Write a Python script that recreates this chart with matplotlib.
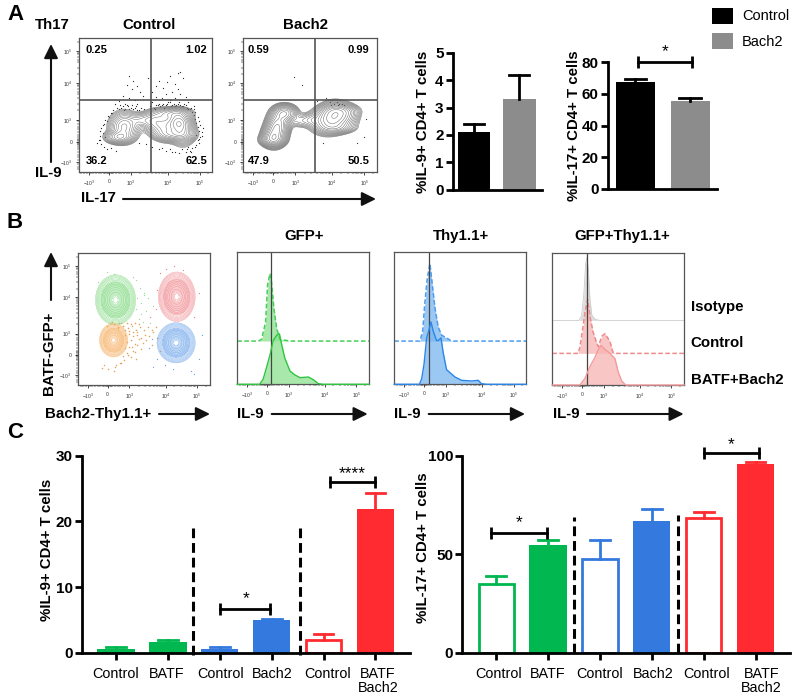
import numpy as np
import matplotlib
matplotlib.use('Agg')
import matplotlib.pyplot as plt
from matplotlib.transforms import ScaledTranslation

plt.rcParams['font.family'] = ['Liberation Sans', 'DejaVu Sans']
plt.rcParams['mathtext.default'] = 'regular'

W, H = 800, 698

# panel A bars
a_groups = ['Control', 'Bach2']
a_il9 = [2.1, 3.3]
a_il9_top = [2.4, 4.2]
a_il17 = [67.5, 55.5]
a_il17_top = [69.5, 57.7]

# panel C bars
c_labels = ['Control', 'BATF', 'Control', 'Bach2', 'Control', 'BATF\nBach2']
c_il9 = [0.6, 1.6, 0.6, 5.0, 1.9, 21.9]
c_il9_top = [0.9, 1.9, 0.9, 5.2, 2.8, 24.3]
c_il17 = [35.0, 54.5, 47.5, 66.8, 68.5, 95.8]
c_il17_top = [38.8, 57.3, 57.3, 73.0, 71.5, 96.6]
c_colors = ['#00b84f', '#00b84f', '#3479dd', '#3479dd', '#ff2b30', '#ff2b30']
c_hollow_il9 = [False, False, False, False, True, False]
c_hollow_il17 = [True, False, True, False, True, False]

# flow axis ticks (position along the display axis, 0-100)
flow_ticks = [7.5, 22.5, 39, 66.5, 90.5]
flow_ticklabels = ['$-10^3$', '0', '$10^3$', '$10^4$', '$10^5$']
flow_minor = [2, 4, 6, 9, 11, 13, 15, 17, 19, 20, 21, 22, 23, 24, 25, 26, 28, 30, 32, 34, 36, 38,
              46, 51, 55, 58, 60, 62, 64, 65, 73, 78, 82, 84, 86, 88, 89, 97]

# contour clusters: centre x, centre y, sd x, sd y, weight
ctrl_blobs = [(30, 26, 5.5, 2.6, .55), (34, 34, 6, 6, .6), (47, 39, 5, 3, .22), (56, 38, 5, 4.5, .35),
              (65, 34, 6, 5.5, .55), (75, 37, 4.5, 4.5, 1.0), (78, 31, 5, 6, .5), (72, 28, 8, 2.6, .4),
              (70, 44, 8, 2.4, .4)]
bach_blobs = [(23, 27, 4.5, 4.5, 1.0), (26, 35, 4.5, 5, 1.0), (31, 44, 5, 3.5, .9), (22, 24, 5, 2.6, .5),
              (42, 38, 4.5, 3, .13), (50, 39, 4.5, 3, .16), (62, 38, 7, 5.5, .5), (68, 42, 6, 5.5, .7),
              (76, 42, 6, 5, .4), (70, 33, 8, 2.5, .25), (72, 46, 8, 2.5, .25)]
gfp_blobs = {
    '#7fd87f': [(28.5, 64.6, 6, 7.5, 1.0)],
    '#f08c92': [(75, 67, 5.5, 7.4, 1.0)],
    '#f7b368': [(27, 34, 4.2, 5, 1.0)],
    '#74a9ec': [(74.5, 32, 5.7, 6, 1.0)],
}

# outlier dots
ctrl_dots_x = [38, 41, 36, 40, 44, 46, 33, 38, 42, 30, 48, 35, 44, 27, 52, 55, 60, 63, 66, 68, 70, 72, 74, 76, 78,
               74, 65, 62, 58, 68, 72, 76, 80, 82, 55, 58, 86,
               29, 31, 33, 35, 37, 39, 41, 43, 45, 47, 49, 53, 56, 59, 61, 63, 65, 67, 69, 71, 73, 75, 77, 79, 81, 83, 85,
               30, 32, 34, 36, 38, 40, 42, 44, 60, 62, 64, 66, 68, 70, 72, 74, 76, 78, 80, 82, 84, 86, 58, 57,
               86, 87, 88, 89, 90, 88, 91, 89, 90, 92, 88, 90, 87, 85, 83, 81, 89, 91, 87, 93, 90, 92,
               26, 24, 22, 20, 19, 17, 18, 16, 15, 17, 19, 21, 24, 28, 45, 50, 55, 60, 65, 70, 75, 80,
               25, 23, 21, 18, 16, 20, 14, 16, 62, 68, 72, 77, 82, 84]
ctrl_dots_y = [72, 68, 65, 62, 64, 60, 57, 55, 54, 53, 57, 51, 51, 51, 70, 52, 68, 63, 67, 72, 60, 66, 74, 75, 70,
               62, 58, 55, 56, 54, 55, 58, 56, 52, 60, 64, 49,
               48, 50, 49, 47, 49, 48, 47, 49, 46, 48, 47, 49, 48, 50, 49, 51, 50, 52, 49, 51, 50, 52, 49, 51, 48, 47, 45,
               47, 48, 46, 50, 47, 50, 48, 46, 51, 50, 48, 51, 52, 50, 49, 51, 50, 49, 50, 47, 48, 47, 50, 47,
               43, 40, 37, 34, 31, 28, 26, 24, 22, 30, 20, 38, 19, 18, 16, 17, 41, 35, 45, 33, 25, 27,
               46, 44, 42, 39, 36, 33, 29, 27, 24, 21, 19, 17, 18, 16, 22, 21, 19, 17, 16, 15, 14, 15,
               44, 41, 38, 35, 31, 26, 22, 24, 18, 17, 15, 17, 19, 15]
bach_dots_x = [38, 44, 55, 62, 65, 70, 74, 92, 90, 85, 60, 66, 68, 72, 75, 71]
bach_dots_y = [71, 65, 53, 55, 52, 52, 51, 40, 26, 22, 22, 50, 51, 51, 50, 50]

green_dots_x = [22, 27, 15, 44, 47, 50, 53, 48, 44, 52, 57, 46, 49, 55, 42, 45, 48, 50]
green_dots_y = [86, 84, 78, 80, 74, 70, 66, 62, 58, 56, 60, 50, 48, 47, 82, 66, 54, 68]
orange_dots_x = [38, 41, 44, 47, 50, 53, 56, 59, 36, 39, 42, 45, 48, 51, 54, 57, 37, 40, 43, 46, 49, 52, 36, 39, 42,
                 45, 48, 34, 37, 40, 43, 20, 18, 23, 28, 33, 27, 56, 60, 62, 44, 30, 34,
                 24, 27, 31, 34, 37, 40, 43, 46, 22, 26, 30, 33, 36, 39, 42, 45, 41, 38, 35, 32, 29]
orange_dots_y = [43, 45, 42, 44, 42, 44, 42, 44, 38, 39, 37, 40, 36, 38, 37, 40, 33, 34, 31, 35, 32, 34, 28, 29, 26,
                 30, 27, 22, 24, 21, 25, 15, 13, 12, 14, 17, 11, 30, 36, 26, 20, 43, 45,
                 47, 46, 47, 45, 47, 46, 47, 46, 45, 48, 44, 47, 42, 41, 40, 38, 29, 23, 19, 17, 15]
red_dots_x = [67, 73, 80, 92, 55, 59, 60, 88, 62]
red_dots_y = [88, 90, 87, 70, 52, 58, 72, 52, 85]
blue_dots_x = [56, 54, 60, 66, 72, 86, 92, 94, 57, 88]
blue_dots_y = [35, 28, 20, 15, 12, 11, 20, 38, 14, 8]

# histograms: x, height in % of the box
gfp_top_x = [0, 16, 18.5, 21.5, 23, 24.8, 26, 27.8, 29.9, 32.4, 37.5, 42, 100]
gfp_top_y = [32.6, 32.6, 34, 47, 75, 83.5, 77, 57, 42, 34, 33, 32.6, 32.6]
gfp_low_x = [0, 17, 19.7, 22, 24.8, 27.3, 29.9, 32, 33.7, 36, 40, 43.8, 47.6, 54, 57.7, 61.5, 65, 100]
gfp_low_y = [0, 0, 4, 12, 22, 33, 37, 38, 30, 20, 10, 7, 5, 5.5, 3.5, 0.5, 0, 0]
thy_top_x = [0, 19.4, 21.5, 23, 25, 27, 28.8, 30.9, 33.3, 35.9, 39.6, 42.7, 45, 100]
thy_top_y = [32.6, 32.6, 40, 60, 80, 91, 75, 57, 43, 37, 35, 33, 32.6, 32.6]
thy_low_x = [0, 19, 20.7, 22.5, 24.5, 26, 27.8, 29.5, 32, 33.3, 35.4, 37, 39.6, 46, 51, 58.6, 63.6, 66, 70, 100]
thy_low_y = [0, 0, 4, 15, 35, 40, 47, 40, 33, 33, 35, 24, 11, 5.5, 3, 2.5, 3, 0.5, 0, 0]
iso_x = [0, 20.3, 22.3, 24, 25.3, 26.3, 27.3, 28.6, 30, 32.4, 36, 100]
iso_y = [49, 49, 53, 70, 92, 97, 88, 65, 53, 50, 49, 49]
dbl_top_x = [0, 19.7, 21, 23, 24.8, 26.8, 29, 31, 33.7, 35, 37.5, 40, 43.8, 46, 48, 100]
dbl_top_y = [24, 24, 29, 42, 55, 65, 50, 40, 32, 29, 37, 39, 33, 25, 24, 24]
dbl_low_x = [0, 21, 24.8, 28.6, 32.4, 35, 37, 40, 43.8, 47.6, 50, 52.7, 55.7, 58, 100]
dbl_low_y = [0, 0, 5, 14, 21, 27, 30, 27, 24, 20, 10, 3, 0, 0, 0]

fig = plt.figure(figsize=(W / 100, H / 100), dpi=100)


def ax_px(x0, y0, x1, y1):
    return fig.add_axes([x0 / W, 1 - y1 / H, (x1 - x0) / W, (y1 - y0) / H])


def flow_axes(x0, y0, x1, y1, yticks=True):
    ax = ax_px(x0, y0, x1, y1)
    ax.set_xlim(0, 100)
    ax.set_ylim(0, 100)
    ax.set_xticks(flow_ticks, flow_ticklabels, fontsize=3.6, color='#333333')
    ax.set_xticks(flow_minor, minor=True)
    if yticks:
        ax.set_yticks(flow_ticks, flow_ticklabels, fontsize=3.6, color='#333333')
        ax.set_yticks(flow_minor, minor=True)
    else:
        ax.set_yticks([])
    ax.tick_params(which='major', length=2.2, width=0.5, pad=2.5)
    ax.tick_params(which='minor', length=1.2, width=0.35)
    for s in ax.spines.values():
        s.set_color('#555555')
        s.set_linewidth(0.9)
    return ax


def density(blobs):
    gx, gy = np.meshgrid(np.linspace(0, 100, 300), np.linspace(0, 100, 300))
    z = np.zeros_like(gx)
    for cx, cy, sx, sy, w in blobs:
        z += w * np.exp(-0.5 * ((gx - cx) / sx) ** 2 - 0.5 * ((gy - cy) / sy) ** 2)
    return gx, gy, z / z.max()


def contour_plot(ax, blobs, color, lw, n=16, low=0.04, tint=None):
    gx, gy, z = density(blobs)
    if tint:
        # crowded centre of a cluster reads as a soft wash, the very middle stays white
        ax.contourf(gx, gy, z, levels=[0.2, 0.9], colors=[color], alpha=tint)
    ax.contour(gx, gy, z, levels=np.geomspace(low, 0.95, n), colors=color, linewidths=lw)


def hist_panel(ax, top_x, top_y, low_x, low_y, base, line, fill, dash):
    ax.fill_between(top_x, base, top_y, color=fill, alpha=0.75, lw=0)
    ax.plot(top_x, top_y, color=dash, lw=1.1, ls=(0, (3, 1.6)))
    ax.fill_between(low_x, 0, low_y, color=fill, alpha=0.75, lw=0)
    ax.plot(low_x, low_y, color=line, lw=1.0, clip_on=False, zorder=3)


def style_bars(ax):
    for s in ['top', 'right']:
        ax.spines[s].set_visible(False)
    for s in ['left', 'bottom']:
        ax.spines[s].set_linewidth(2)
    ax.patch.set_alpha(0)
    ax.tick_params(axis='y', width=2, length=5, labelsize=11, pad=1.5)
    for t in ax.get_yticklabels():
        t.set_fontweight('bold')


def bracket(ax, x0, x1, y, star, star_x, star_y):
    ax.plot([x0, x1], [y, y], color='black', lw=2, marker='|', ms=8, mew=2, clip_on=False)
    ax.text(star_x, star_y, star, ha='center', va='center', fontsize=12.5, clip_on=False)


def bar_c(ax, values, tops, hollow, shifts):
    for i, (v, t, c, h) in enumerate(zip(values, tops, c_colors, hollow)):
        ax.plot([i, i], [v, t], color=c, lw=2, clip_on=False)
        ax.plot([i - 0.19, i + 0.19], [t, t], color=c, lw=2, clip_on=False)
        if h:
            ax.bar(i, v, width=0.68, facecolor='white', edgecolor=c, linewidth=2)
        else:
            ax.bar(i, v, width=0.72, color=c)
    ax.set_xticks(range(6), c_labels, fontsize=10.4, linespacing=1.0, va='top')
    ax.tick_params(axis='x', width=2, length=5, pad=5)
    ax.set_xlim(-0.655, 5.665)
    # labels in the figure are not quite under their ticks
    for lab, dx in zip(ax.get_xticklabels(), shifts):
        lab.set_transform(lab.get_transform() + ScaledTranslation(dx / 100, 0, fig.dpi_scale_trans))


# --- panel A flow plots
ax = flow_axes(78.7, 38.3, 212.3, 172)
ax.scatter(ctrl_dots_x, ctrl_dots_y, s=0.8, color='#222222', lw=0)
contour_plot(ax, ctrl_blobs, '#6e6e6e', 0.35, n=16)
ax.axvline(54, color='#555555', lw=1.2)
ax.axhline(53.5, color='#555555', lw=1.2)

ax = flow_axes(243, 38.3, 377, 172)
ax.scatter(bach_dots_x, bach_dots_y, s=0.8, color='#333333', lw=0)
contour_plot(ax, bach_blobs, '#666666', 0.35, n=16)
ax.axvline(54, color='#555555', lw=1.2)
ax.axhline(53.5, color='#555555', lw=1.2)

# --- panel A bars
ax = ax_px(452.7, 52.7, 542, 189.7)
ax.bar([0, 1], a_il9, width=0.72, color=['black', '#8c8c8c'])
for i in range(2):
    ax.plot([i, i], [a_il9[i], a_il9_top[i]], color='black', lw=2)
    ax.plot([i - 0.22, i + 0.22], [a_il9_top[i], a_il9_top[i]], color='black', lw=2)
ax.set_xlim(-0.468, 1.495)
ax.set_ylim(0, 5)
ax.set_xticks([])
ax.set_yticks(range(6))
style_bars(ax)

ax = ax_px(607.7, 62.3, 717, 189)
ax.bar([0, 1], a_il17, width=0.71, color=['black', '#8c8c8c'])
for i in range(2):
    ax.plot([i, i], [a_il17[i], a_il17_top[i]], color='black', lw=2)
    ax.plot([i - 0.2, i + 0.2], [a_il17_top[i], a_il17_top[i]], color='black', lw=2)
ax.set_xlim(-0.507, 1.487)
ax.set_ylim(0, 80)
ax.set_xticks([])
ax.set_yticks(range(0, 81, 20))
style_bars(ax)
bracket(ax, 0.05, 1.04, 80, '*', 0.54, 87)

# --- panel B contour plot
ax = flow_axes(78, 253.3, 209.7, 385)
ax.scatter(green_dots_x, green_dots_y, s=0.8, color='#8fdc8f', lw=0)
ax.scatter(orange_dots_x, orange_dots_y, s=1.2, color='#e8a050', lw=0)
ax.scatter(red_dots_x, red_dots_y, s=0.8, color='#ee8086', lw=0)
ax.scatter(blue_dots_x, blue_dots_y, s=0.8, color='#649fe8', lw=0)
for col, blobs in gfp_blobs.items():
    contour_plot(ax, blobs, col, 0.3, n=14, tint=0.45)

# --- panel B histograms
ax = flow_axes(237.3, 251.7, 369, 384.3, yticks=False)
hist_panel(ax, gfp_top_x, gfp_top_y, gfp_low_x, gfp_low_y, 32.6, '#2fc53f', '#8be28f', '#46cf58')
ax.axvline(25.8, color='#444444', lw=0.9)

ax = flow_axes(394.3, 251.7, 526.3, 384.3, yticks=False)
hist_panel(ax, thy_top_x, thy_top_y, thy_low_x, thy_low_y, 32.6, '#2a86e6', '#7ab6f0', '#4a9cf0')
ax.axvline(26, color='#444444', lw=0.9)

ax = flow_axes(552.3, 253.3, 684, 385, yticks=False)
ax.fill_between(iso_x, 49, iso_y, color='#dddddd', lw=0)
ax.plot(iso_x, iso_y, color='#cccccc', lw=0.6)
hist_panel(ax, dbl_top_x, dbl_top_y, dbl_low_x, dbl_low_y, 24, '#f49a9a', '#f8b4b4', '#ee8a8a')
ax.axvline(26.6, color='#444444', lw=0.9)

# --- panel C bars
ax = ax_px(82, 455.7, 410, 652.7)
bar_c(ax, c_il9, c_il9_top, c_hollow_il9, [0, -1, 1, 1, 3.5, 2.5])
ax.set_ylim(0, 30)
ax.set_yticks([0, 10, 20, 30])
style_bars(ax)
ax.plot([1.48, 1.48], [-0.3, 19], color='black', lw=2.2, ls=(0, (3.2, 1.6)), clip_on=False)
ax.plot([3.55, 3.55], [-0.3, 19], color='black', lw=2.2, ls=(0, (3.2, 1.6)), clip_on=False)
bracket(ax, 2, 2.97, 6.7, '*', 2.5, 8.2)
bracket(ax, 4.12, 5, 26, '****', 4.56, 27.3)

ax = ax_px(462.3, 455.7, 790, 652.7)
bar_c(ax, c_il17, c_il17_top, c_hollow_il17, [2, 0, 0, 1, 3, 6])
ax.set_ylim(0, 100)
ax.set_yticks([0, 50, 100])
style_bars(ax)
ax.plot([1.5, 1.5], [0, 69], color='black', lw=2.2, ls=(0, (3.2, 1.6)), clip_on=False)
ax.plot([3.5, 3.5], [0, 70], color='black', lw=2.2, ls=(0, (3.2, 1.6)), clip_on=False)
bracket(ax, -0.11, 0.97, 61, '*', 0.44, 66)
bracket(ax, 4, 5.06, 101.3, '*', 4.53, 105.5)

# --- text and arrows drawn in picture pixels
top = fig.add_axes([0, 0, 1, 1], zorder=10)
top.set_xlim(0, W)
top.set_ylim(H, 0)
top.axis('off')


def label(x, y, s, size=10.8, ha='left', weight='bold', rot=0):
    top.text(x, y, s, fontsize=size, ha=ha, va='center', fontweight=weight, rotation=rot,
             rotation_mode='anchor' if rot else 'default')


def arrow(x0, y0, x1, y1):
    top.annotate('', xy=(x1, y1), xytext=(x0, y0),
                 arrowprops=dict(arrowstyle='-|>,head_length=0.85,head_width=0.42', color='#111111',
                                 lw=1.5, shrinkA=0, shrinkB=0))


for x, y, s in [(7, 15, 'A'), (7, 223, 'B'), (7, 433, 'C')]:
    label(x, y, s, size=16)

label(35, 25, 'Th17')
label(149, 25, 'Control', ha='center')
label(305, 25, 'Bach2', ha='center')
label(35, 173, 'IL-9')
label(81, 198.5, 'IL-17')
arrow(51, 162, 51, 44)
arrow(123, 199, 376, 199)

for x, s in [(86, '0.25'), (248, '0.59')]:
    label(x, 50, s, size=8)
for x, s in [(207, '1.02'), (369, '0.99')]:
    label(x, 50, s, size=8, ha='right')
for x, s in [(86, '36.2'), (248, '47.9')]:
    label(x, 161, s, size=8)
for x, s in [(207, '62.5'), (369, '50.5')]:
    label(x, 161, s, size=8, ha='right')

label(423, 122, '%IL-9+ CD4+ T cells', ha='center', rot=90)
label(574, 126, '%IL-17+ CD4+ T cells', ha='center', rot=90)

top.add_patch(plt.Rectangle((711.7, 8), 21, 16, color='black', lw=0))
top.add_patch(plt.Rectangle((711.7, 33), 21, 16, color='#8c8c8c', lw=0))
label(742, 16, a_groups[0], size=10.5, weight='normal')
label(742, 41.5, a_groups[1], size=10.5, weight='normal')

label(303.7, 236, 'GFP+', ha='center')
label(461, 236, 'Thy1.1+', ha='center')
label(622.7, 236, 'GFP+Thy1.1+', ha='center')
label(49, 353, 'BATF-GFP+', ha='center', rot=90)
arrow(51, 300, 51, 252)
label(45, 414, 'Bach2-Thy1.1+')
arrow(159, 414, 210, 414)
label(237, 414, 'IL-9')
arrow(271.7, 414, 367.7, 414)
label(394, 414, 'IL-9')
arrow(428.7, 414, 525, 414)
label(552.7, 414, 'IL-9')
arrow(587, 414, 683.7, 414)
label(690.7, 307, 'Isotype')
label(690.7, 343, 'Control')
label(690.7, 380, 'BATF+Bach2')

label(47.5, 550, '%IL-9+ CD4+ T cells', ha='center', rot=90)
label(422.7, 548, '%IL-17+ CD4+ T cells', ha='center', rot=90)

fig.savefig('out.png', dpi=100)
